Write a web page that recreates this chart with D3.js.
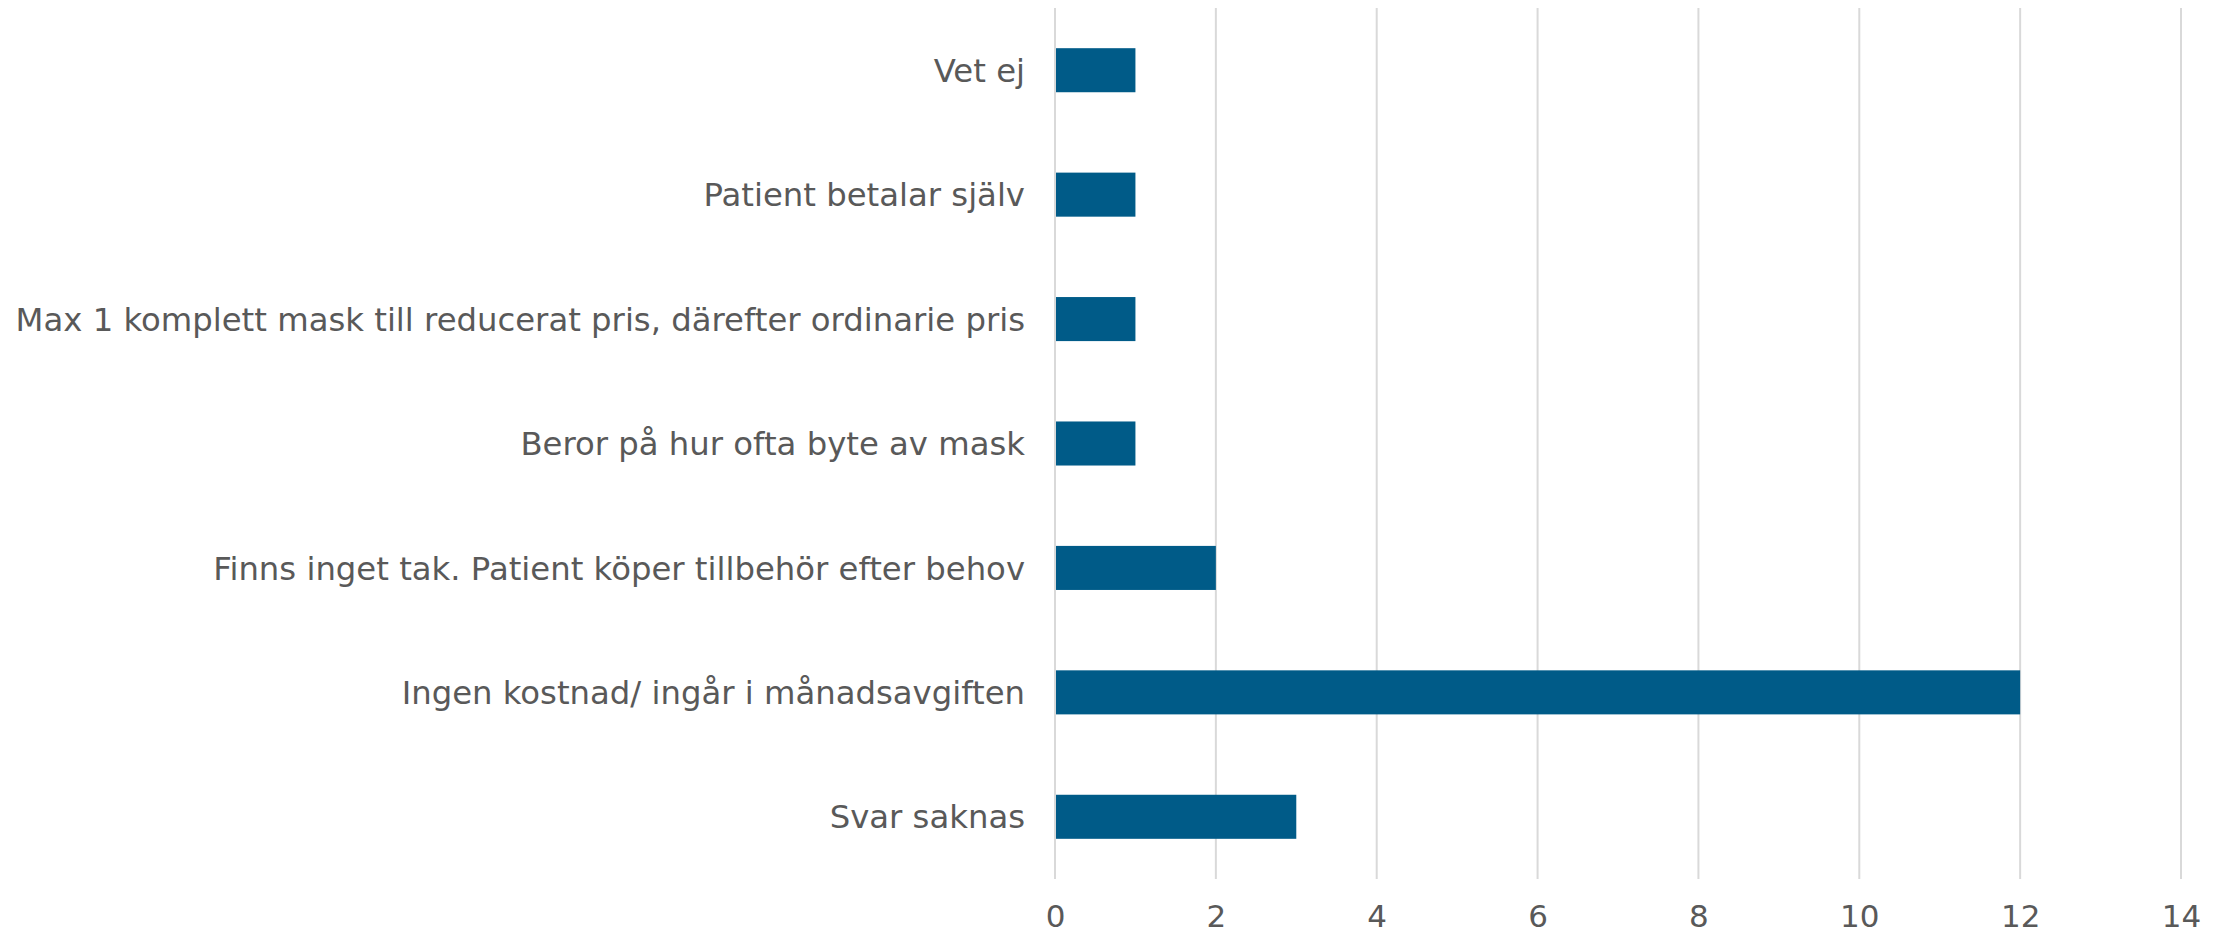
<!DOCTYPE html>
<html>
<head>
<meta charset="utf-8">
<script src="https://cdn.jsdelivr.net/npm/d3@7"></script>
<style>
  body { margin: 0; background: #fff; }
  svg text { font-family: "DejaVu Sans", Verdana, sans-serif; fill: #595959; }
</style>
</head>
<body>
<div id="chart"></div>
<script>
var categories = [
  "Vet ej",
  "Patient betalar själv",
  "Max 1 komplett mask till reducerat pris, därefter ordinarie pris",
  "Beror på hur ofta byte av mask",
  "Finns inget tak. Patient köper tillbehör efter behov",
  "Ingen kostnad/ ingår i månadsavgiften",
  "Svar saknas"
];
var values = [1, 1, 1, 1, 2, 12, 3];
var ticks = [0, 2, 4, 6, 8, 10, 12, 14];

var width = 2226,
    height = 936,
    plotLeft = 1055,
    plotRight = 2181,
    plotTop = 8,
    plotBottom = 879;

var svg = d3.select("#chart").append("svg")
    .attr("width", width)
    .attr("height", height);

var x = d3.scaleLinear()
    .domain([0, 14])
    .range([plotLeft, plotRight]);

var y = d3.scaleBand()
    .domain(categories)
    .range([plotTop, plotBottom])
    .paddingInner(0.646)
    .paddingOuter(0.323);

// gridlines
svg.append("g")
  .selectAll("line")
  .data(ticks)
  .enter().append("line")
    .attr("x1", function(d) { return x(d); })
    .attr("x2", function(d) { return x(d); })
    .attr("y1", plotTop)
    .attr("y2", plotBottom)
    .attr("stroke", "#d9d9d9")
    .attr("stroke-width", 2);

// bars
svg.append("g")
  .selectAll("rect")
  .data(values)
  .enter().append("rect")
    .attr("x", x(0) + 1)
    .attr("y", function(d, i) { return y(categories[i]); })
    .attr("width", function(d) { return x(d) - x(0) - 1; })
    .attr("height", y.bandwidth())
    .attr("fill", "#005b88");

// x axis labels
var xAxis = d3.axisBottom(x).tickValues(ticks).tickSize(0).tickPadding(0);
var ax = svg.append("g")
    .attr("transform", "translate(0,927)")
    .call(xAxis);
ax.select(".domain").remove();
ax.selectAll("text")
    .attr("dy", 0)
    .style("font-size", "31px");

// category labels
var yAxis = d3.axisLeft(y).tickSize(0).tickPadding(0);
var ay = svg.append("g")
    .attr("transform", "translate(1025,0)")
    .call(yAxis);
ay.select(".domain").remove();
ay.selectAll("text")
    .attr("dy", "0.36em")
    .style("font-size", "32.3px");
</script>
</body>
</html>
